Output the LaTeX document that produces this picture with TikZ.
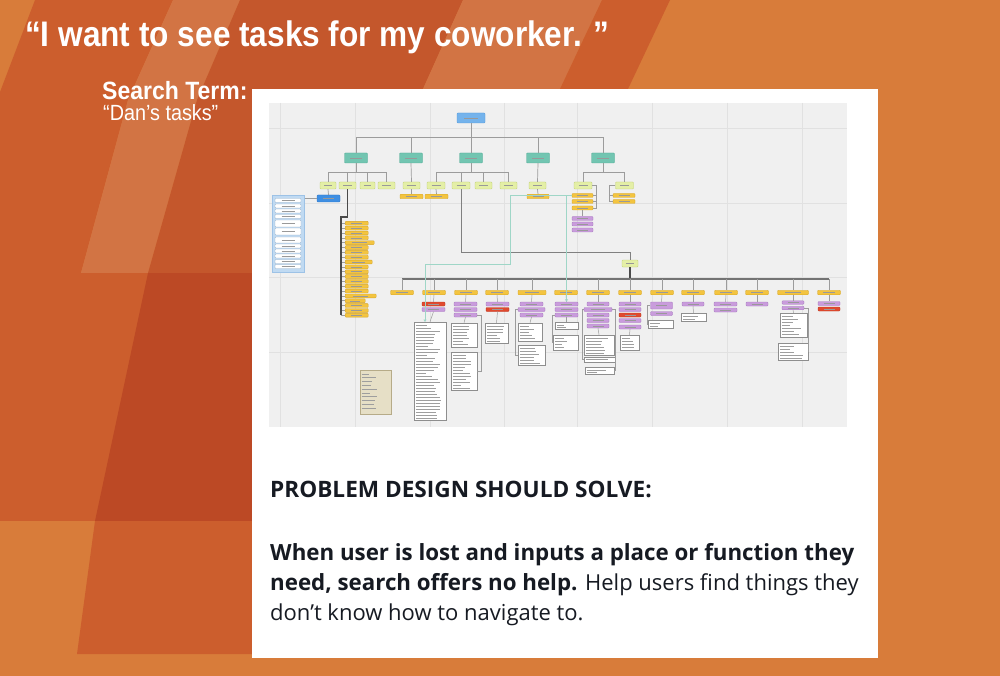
\documentclass[tikz,border=0pt]{standalone}
\usepackage{fontspec}
\setmainfont{Liberation Sans}
\newfontfamily\opensans{Open Sans}
\usetikzlibrary{calc,arrows.meta}
\definecolor{bgL}{HTML}{D87C3A}
\definecolor{bgM}{HTML}{CC5E2D}
\definecolor{bgS}{HTML}{D27444}
\definecolor{bgD}{HTML}{C4572C}
\definecolor{bgX}{HTML}{BC4925}
\definecolor{shotbg}{HTML}{F0F0F0}
\definecolor{gridc}{HTML}{E1E1E1}
\definecolor{cRoot}{HTML}{74B3EC}\definecolor{cRootD}{HTML}{4F95D8}
\definecolor{cTeal}{HTML}{72C5B1}\definecolor{cTealD}{HTML}{4FA993}
\definecolor{cLv}{HTML}{E4EFA6}\definecolor{cLvD}{HTML}{BFCF72}
\definecolor{cOr}{HTML}{F3C440}\definecolor{cOrD}{HTML}{D6A526}
\definecolor{cPu}{HTML}{C99CDC}\definecolor{cPuD}{HTML}{A677BF}
\definecolor{cRd}{HTML}{E04A2F}\definecolor{cRdD}{HTML}{B9351E}
\definecolor{cBl}{HTML}{3F8FE3}\definecolor{cBlD}{HTML}{2C72C1}
\definecolor{cPanel}{HTML}{C0DAF2}\definecolor{cPanelD}{HTML}{9DC2E6}
\definecolor{cLeg}{HTML}{E6DFC6}\definecolor{cLegD}{HTML}{B6AB88}
\definecolor{cLine}{HTML}{9C9C9C}\definecolor{cDark}{HTML}{4A4A4A}
\definecolor{cTealL}{HTML}{9FD6C7}\definecolor{cList}{HTML}{8E8E8E}
\definecolor{txtc}{HTML}{161A22}
\newcommand\mytxtlines[4]{%
  \foreach \k in {1,...,#2}{%
    \pgfmathsetmacro\len{(#4)*(0.35+0.55*rnd)}%
    \draw[txtl] ($(#1.north west)+(2,{#3*\k+0.3})$) -- ++(\len,0);
  }%
}
\begin{document}
\begin{tikzpicture}[x=1pt,y=-1pt,
  bw/.style={minimum width=#1*1pt},
  bh/.style={minimum height=#1*1pt},
  box/.style={draw, rounded corners=0.8pt, inner sep=0pt, line width=0.4pt,
    path picture={\draw[line width=0.45pt, black!40]
      ($(path picture bounding box.west)!0.25!(path picture bounding box.east)$) --
      ($(path picture bounding box.west)!0.75!(path picture bounding box.east)$);}},
  rootn/.style={box, fill=cRoot, draw=cRootD, minimum width=28pt, minimum height=10pt},
  tealn/.style={box, fill=cTeal, draw=cTealD, minimum width=23pt, minimum height=10pt},
  lvtwo/.style={box, fill=cLv, draw=cLvD, minimum height=7pt},
  orn/.style={box, fill=cOr, draw=cOrD, minimum height=4.5pt},
  pun/.style={box, fill=cPu, draw=cPuD, minimum height=4pt},
  rdn/.style={box, fill=cRd, draw=cRdD, minimum height=4pt},
  bln/.style={box, fill=cBl, draw=cBlD, minimum height=7pt},
  itm/.style={box, fill=white, draw=cPanelD!70!gray, minimum width=26pt},
  listb/.style={draw=cList, fill=white, line width=0.5pt, inner sep=0pt},
  conn/.style={draw=cLine, line width=0.7pt},
  dconn/.style={draw=cDark, line width=1.2pt},
  tconn/.style={draw=cTealL, line width=0.7pt},
  txtl/.style={draw=black!38, line width=0.55pt},
  gridl/.style={draw=gridc, line width=0.8pt}
]
\pgfmathsetseed{3}
\useasboundingbox (0,0) rectangle (1000,676);
% ---------- background ----------
\fill[bgL] (0,0) rectangle (1000,676);
\fill[bgM] (35,0) -- (173,0) -- (128,100) -- (81,273) -- (0,273) -- (0,92) -- cycle;
\fill[bgS] (173,0) -- (240,0) -- (197,100) -- (148,273) -- (81,273) -- (128,100) -- cycle;
\fill[bgD] (240,0) -- (463,0) -- (423,89) -- (300,273) -- (148,273) -- (197,100) -- cycle;
\fill[bgS] (463,0) -- (602,0) -- (560,89) -- (423,89) -- cycle;
\fill[bgM] (602,0) -- (670,0) -- (628,89) -- (560,89) -- cycle;
\fill[bgM] (0,273) rectangle (260,521);
\fill[bgX] (148,273) -- (260,273) -- (260,521) -- (95,521) -- cycle;
\fill[bgM] (95,521) -- (260,521) -- (260,654) -- (77,654) -- cycle;
% ---------- titles ----------
\node[anchor=base west, inner sep=0, text=white, font=\fontsize{35.5}{35.5}\selectfont\bfseries] (title) at (25,47)
  {\scalebox{0.89}[1]{“I want to see tasks for my coworker. ”}};
\node[anchor=base west, inner sep=0, text=white, font=\fontsize{25}{25}\selectfont\bfseries] (sterm) at (102,100)
  {\scalebox{0.92}[1]{Search Term:}};
\node[anchor=base west, inner sep=0, text=white, font=\fontsize{22}{22}\selectfont] (dan) at (103,121)
  {\scalebox{0.9}[1]{“Dan’s tasks”}};
% ---------- card ----------
\fill[white] (252,89) rectangle (878,658);
\fill[shotbg] (269,103) rectangle (847,427);
\foreach \gx in {280,355,430,504,577,652,727,802} \draw[gridl] (\gx,103) -- (\gx,427);
\foreach \gy in {128,203,277,352} \draw[gridl] (269,\gy) -- (847,\gy);
% ---------- sitemap: top levels ----------
\node[rootn] (root) at (471,118) {};
\foreach \i/\x in {1/356,2/411,3/471,4/538,5/603} \node[tealn] (t\i) at (\x,158) {};
\coordinate (h1) at (471,137);
\draw[conn, line width=0.9pt] (root.south) -- (h1);
\foreach \i in {1,...,5} \draw[conn, line width=0.9pt] (h1) -| (t\i.north);
% level 2
\foreach \n/\x/\ww in {a1/328/16,a2/347.5/17,a3/367.5/15,a4/386.5/17,b1/411.5/17,c1/436/18,c2/461/18,c3/483.5/17,c4/508.5/17,d1/537.5/17,e1/583/18,e2/624.5/18}
  \node[lvtwo, bw=\ww] (\n) at (\x,185.5) {};
\coordinate (h2a) at (356,172);
\coordinate (h2c) at (471,172);
\coordinate (h2e) at (603,172);
\draw[conn] (t1.south) -- (h2a);
\foreach \n in {a1,a2,a3,a4} \draw[conn] (h2a) -| (\n.north);
\draw[conn] (t2.south) -- (b1.north);
\draw[conn] (t3.south) -- (h2c);
\foreach \n in {c1,c2,c3,c4} \draw[conn] (h2c) -| (\n.north);
\draw[conn] (t4.south) -- (d1.north);
\draw[conn] (t5.south) -- (h2e);
\foreach \n in {e1,e2} \draw[conn] (h2e) -| (\n.north);
% oranges below level 2
\node[orn, bw=23] (ob1) at (411.5,196.5) {};
\node[orn, bw=23] (oc1) at (436.5,196.5) {};
\node[orn, bw=22] (od1) at (538,196.5) {};
\draw[conn] (b1.south) -- (ob1.north);
\draw[conn] (c1.south) -- (oc1.north);
\draw[conn] (d1.south) -- (od1.north);
\foreach \n/\y in {eo1/195.5,eo2/201.5,eo3/208} \node[orn, bw=21, bh=4] (\n) at (582.5,\y) {};
\foreach \n/\y in {ep1/218.5,ep2/224,ep3/230} \node[pun, bw=21] (\n) at (582.5,\y) {};
\coordinate (ebx) at (596,0);
\draw[conn] (e1.east) -- (e1.east -| ebx) |- (eo3.east);
\foreach \n in {eo1,eo2} \draw[conn] (\n.east) -- (\n.east -| ebx);
\draw[conn] (eo3.south) -- (ep1.north);
\foreach \n/\y in {fo1/195.5,fo2/201.5} \node[orn, bw=22, bh=4] (\n) at (624,\y) {};
\coordinate (fx) at (609,0);
\draw[conn] (e2.west) -- (e2.west -| fx) |- (fo2.west);
\draw[conn] (fo1.west) -- (fo1.west -| fx);
% blue node and side panel
\node[bln, bw=23] (bn) at (328.5,198.5) {};
\draw[conn] (a1.south) -- (bn.north);
\node[fill=cPanel, draw=cPanelD, line width=0.5pt, minimum width=32pt, minimum height=77pt, inner sep=0pt, anchor=north west] (panel) at (272,195) {};
\foreach \yc/\hh [count=\n] in {200.5/4,206/4,211/4,216.5/4,223.5/7,231.5/7,240/6,246/4,251/4,256/4,261.5/4,266.5/4}
  \node[itm, bh=\hh] (pi\n) at (288,\yc) {};
\draw[conn] (panel.east |- bn.west) -- (bn.west);
% long column
\coordinate (cA) at (347.5,217);
\coordinate (cB) at (341,217);
\coordinate (cC) at (341,315.3);
\foreach \k/\ww in {0/23,1/23,2/23,3/23,4/29,5/23,6/23,7/23,8/27,9/23,10/23,11/23,12/23,13/23,14/23,15/31,16/20,17/23,18/23,19/23}{
  \pgfmathsetmacro\yy{223.3+4.84*\k}
  \node[orn, bw=\ww, bh=3.8, anchor=west] (col\k) at (345,\yy) {};
  \draw[conn, line width=0.5pt] (col\k.west -| cB) -- (col\k.west);
}
\draw[dconn] (a2.south) -- (cA) -- (cB) -- (cC);
% hub
\node[lvtwo, bw=16] (hub) at (630,263.5) {};
\coordinate (hA) at (461,252);
\coordinate (hB) at (630,252);
\draw[conn, draw=gray] (c2.south) -- (hA) -- (hB) -- (hub.north);
% level 3
\coordinate (hl3) at (630,279);
\coordinate (hL) at (402,279);
\coordinate (hR) at (829,279);
\draw[dconn] (hub.south) -- (hl3);
\draw[dconn, draw=gray!90!black] (hL) -- (hR);
\foreach \i/\x/\ww in {1/402/23,2/434/23,3/466/23,4/497/23,5/532/28,6/566/23,7/598/23,8/630/23,9/662/23,10/693/23,11/726/23,12/757/23,13/793/31,14/829/23}{
  \node[orn, bw=\ww] (l3-\i) at (\x,292.5) {};
  \draw[conn] (l3-\i.north |- hl3) -- (l3-\i.north);
}
% children of level 3
\node[rdn, bw=23] (g2a) at (433.5,304) {};
\node[pun, bw=23] (g2b) at (433.5,309.5) {};
\foreach \n/\y in {g3a/304,g3b/309.5,g3c/315} \node[pun, bw=23] (\n) at (465.5,\y) {};
\node[pun, bw=23] (g4a) at (497.5,304) {};
\node[rdn, bw=23] (g4b) at (497.5,309.5) {};
\node[pun, bw=23] (g5a) at (531.5,304) {};
\node[pun, bw=27] (g5b) at (531.5,309.5) {};
\node[pun, bw=23] (g5c) at (531.5,315) {};
\foreach \n/\y in {g6a/304,g6b/309.5,g6c/315} \node[pun, bw=23] (\n) at (566.5,\y) {};
\node[pun, bw=22] (g7a) at (598,304) {};
\node[pun, bw=28] (g7b) at (598,309.5) {};
\foreach \n/\y in {g7c/315,g7d/320.5,g7e/326} \node[pun, bw=22] (\n) at (598,\y) {};
\node[pun, bw=22] (g8a) at (630,304) {};
\node[pun, bw=22] (g8b) at (630,309.5) {};
\node[rdn, bw=22] (g8c) at (630,315) {};
\node[pun, bw=22] (g8d) at (630,320.5) {};
\node[pun, bw=22] (g8e) at (630,327) {};
\node[pun, bw=22, bh=7] (g9a) at (661.5,305.5) {};
\node[pun, bw=22] (g9b) at (661.5,313.5) {};
\node[pun, bw=22] (g10a) at (693,304) {};
\node[pun, bw=23] (g11a) at (725.5,304) {};
\node[pun, bw=23] (g11b) at (725.5,310) {};
\node[pun, bw=22] (g12a) at (757,304) {};
\node[pun, bw=22, bh=3.5] (g13a) at (793,302.5) {};
\node[pun, bw=22, bh=3.5] (g13b) at (793,308) {};
\node[pun, bw=22] (g14a) at (829,303.5) {};
\node[rdn, bw=22] (g14b) at (829,309) {};
\foreach \i/\n in {2/g2a,3/g3a,4/g4a,5/g5a,6/g6a,7/g7a,8/g8a,9/g9a,10/g10a,11/g11a,12/g12a,13/g13a,14/g14a}
  \draw[conn, line width=0.5pt] (l3-\i.south) -- (\n.north);
% white list boxes
\foreach \n/\x/\y/\ww/\hh in {Lb2/430/371/32/98, Lb3a/464/335/26/24, Lb3b/464/371/26/38, Lb4/496.5/333/23/20,
  Lb5a/530/332/24/18, Lb5b/531.5/355/27/20, Lb6a/566.5/325.5/23/7, Lb6b/565.5/342.5/25/15,
  Lb7a/599/345/30/20, Lb7b/599.5/359.5/31/5, Lb7c/599.5/370.5/29/7, Lb8/629.5/342.5/19/15,
  Lb9/660.5/324/25/8, Lb10/693.5/317/25/8, Lb13a/793.5/325/27/24, Lb13b/793/351.5/30/17}
  \node[listb, bw=\ww, bh=\hh] (\n) at (\x,\y) {};
\mytxtlines{Lb2}{32}{3}{28}
\mytxtlines{Lb3a}{7}{3}{22}
\mytxtlines{Lb3b}{12}{3}{22}
\mytxtlines{Lb4}{6}{3}{19}
\mytxtlines{Lb5a}{5}{3}{20}
\mytxtlines{Lb5b}{6}{3}{23}
\mytxtlines{Lb6a}{2}{2.8}{19}
\mytxtlines{Lb6b}{4}{3}{21}
\mytxtlines{Lb7a}{6}{3}{26}
\mytxtlines{Lb7b}{1}{2.5}{26}
\mytxtlines{Lb7c}{2}{2.8}{25}
\mytxtlines{Lb8}{4}{3}{15}
\mytxtlines{Lb9}{2}{3}{21}
\mytxtlines{Lb10}{2}{3}{21}
\mytxtlines{Lb13a}{7}{3}{23}
\mytxtlines{Lb13b}{5}{3}{26}
\draw[conn, line width=0.5pt] (g2b.south) -- (Lb2.north);
\draw[conn, line width=0.5pt] (g3c.south) -- (Lb3a.north);
\draw[conn, line width=0.5pt] (g3c.east) -- ++(4,0) |- (Lb3b.east);
\draw[conn, line width=0.5pt] (g4b.south) -- (Lb4.north);
\draw[conn, line width=0.5pt] (g5c.south) -- (Lb5a.north);
\draw[conn, line width=0.5pt] (g5b.west) -- ++(-3,0) |- (Lb5b.west);
\draw[conn, line width=0.5pt] (g6c.south) -- (Lb6a.north);
\draw[conn, line width=0.5pt] (g6c.west) -- ++(-3,0) |- (Lb6b.west);
\draw[conn, line width=0.5pt] (g7e.south) -- (Lb7a.north);
\draw[conn, line width=0.5pt] (g7b.east) -- ++(3,0) |- (Lb7c.east);
\draw[conn, line width=0.5pt] (g7b.west) -- ++(-2,0) |- (Lb7b.west);
\draw[conn, line width=0.5pt] (g8e.south) -- (Lb8.north);
\draw[conn, line width=0.5pt] (g9a.west) -- ++(-3,0) |- (Lb9.west);
\draw[conn, line width=0.5pt] (g10a.south) -- (Lb10.north);
\draw[conn, line width=0.5pt] (g13b.south) -- (Lb13a.north);
\draw[conn, line width=0.5pt] (g13b.east) -- ++(4,0) |- (Lb13b.east);
% teal connectors
\coordinate (tk1) at (510,264);
\coordinate (tk2) at (425,322);
\coordinate (tb0) at (566.5,195.5);
\draw[tconn, -{Triangle[length=2.5pt,width=3pt]}] (eo1.west) -| (tk1) -| (tk2);
\draw[tconn, -{Triangle[length=2.5pt,width=3pt]}] (tb0) -- (g6a.north);
% legend
\node[fill=cLeg, draw=cLegD, line width=0.6pt, minimum width=31pt, minimum height=44pt, inner sep=0pt] (leg) at (375.5,392) {};
\mytxtlines{leg}{10}{3.8}{20}
% ---------- bottom text ----------
\node[anchor=base west, inner sep=0pt, text=txtc, font=\opensans\fontsize{22.6}{22.6}\selectfont\bfseries] (prob) at (270,497)
  {PROBLEM DESIGN SHOULD SOLVE:};
\node[anchor=base west, inner sep=0pt, text=txtc, font=\opensans\fontsize{22.3}{22.3}\selectfont] (tl1) at (270,560)
  {\textbf{When user is lost and inputs a place or function they}};
\node[anchor=base west, inner sep=0pt, text=txtc, font=\opensans\fontsize{22}{22}\selectfont] (tl2) at (270,590)
  {{\fontsize{22.3}{22.3}\selectfont\bfseries need, search offers no help.} Help users find things they};
\node[anchor=base west, inner sep=0pt, text=txtc, font=\opensans\fontsize{22}{22}\selectfont] (tl3) at (270,620)
  {don’t know how to navigate to.};
\end{tikzpicture}
\end{document}
